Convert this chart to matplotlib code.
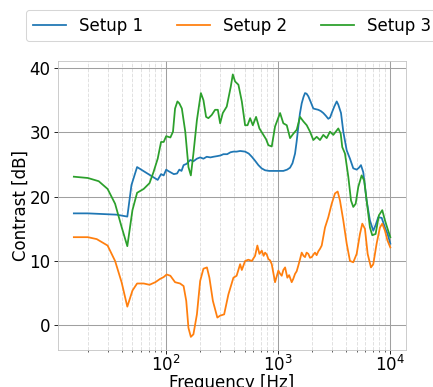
import matplotlib
matplotlib.use("Agg")
from matplotlib import pyplot as plt

plt.rcParams['font.size'] = 16

# Setup 1
freq_1 = [15, 20, 36, 45, 49, 55, 84, 90, 95, 100, 104, 109, 117, 125, 131, 137, 143,
          152, 164, 175, 188, 201, 215, 230, 248, 264, 285, 305, 324, 350, 375, 398,
          425, 457, 506, 545, 581, 620, 665, 710, 763, 830, 904, 1000, 1110, 1200,
          1274, 1340, 1412, 1460, 1511, 1560, 1619, 1680, 1733, 1790, 1855, 1950,
          2055, 2160, 2277, 2400, 2523, 2650, 2796, 2900, 3000, 3160, 3323, 3433,
          3630, 3805, 4080, 4364, 4670, 5008, 5250, 5470, 5734, 6145, 6577, 7043,
          7400, 7801, 8373, 8959, 9450, 10000]
contrast_1 = [17.4, 17.4, 17.2, 16.9, 21.8, 24.6, 22.6, 23.5, 23.3, 24.2, 24.0, 23.8,
              23.5, 23.6, 24.2, 24.0, 24.9, 25.1, 25.7, 25.5, 25.9, 26.1, 25.9, 26.2,
              26.1, 26.2, 26.3, 26.4, 26.6, 26.6, 26.9, 27.0, 27.0, 27.1, 27.0, 26.7,
              26.2, 25.6, 24.9, 24.4, 24.1, 24.0, 24.0, 24.0, 24.0, 24.2, 24.5, 25.2,
              26.7, 28.6, 30.9, 32.9, 34.5, 35.5, 36.1, 36.0, 35.6, 34.7, 33.7, 33.6,
              33.5, 33.3, 33.0, 32.6, 32.1, 32.3, 33.0, 34.0, 34.8, 34.3, 33.0, 30.1,
              27.2, 25.9, 24.4, 24.2, 24.5, 24.9, 23.8, 19.4, 16.3, 14.7, 15.6, 16.8,
              16.7, 15.2, 14.2, 12.7]

# Setup 2
freq_2 = [15, 20, 24, 30, 35, 40, 45, 50, 55, 63, 71, 80, 88, 95, 101, 109, 120, 133,
          143, 151, 158, 166, 175, 188, 201, 215, 231, 243, 261, 286, 303, 329, 359,
          398, 425, 457, 473, 506, 541, 581, 621, 651, 679, 713, 740, 763, 790, 816,
          845, 875, 936, 1002, 1040, 1074, 1110, 1151, 1205, 1250, 1318, 1360, 1412,
          1460, 1511, 1560, 1619, 1680, 1733, 1790, 1855, 1920, 1990, 2060, 2128,
          2200, 2277, 2360, 2442, 2613, 2796, 2999, 3208, 3390, 3554, 3805, 4080,
          4364, 4670, 5008, 5357, 5620, 5936, 6276, 6716, 7043, 7546, 8074, 8471,
          8959, 9420, 10000]
contrast_2 = [13.7, 13.7, 13.4, 12.4, 10.0, 6.7, 2.9, 5.4, 6.5, 6.5, 6.3, 6.7, 7.2,
              7.5, 7.9, 7.7, 6.7, 6.5, 6.1, 3.8, -0.4, -1.8, -1.4, 1.7, 6.9, 8.8, 9.0,
              7.4, 3.8, 1.2, 1.5, 1.7, 4.8, 7.4, 7.7, 9.5, 8.6, 10.0, 10.2, 10.0, 10.8,
              12.4, 11.1, 11.6, 10.8, 11.3, 11.0, 10.3, 10.1, 9.5, 6.7, 8.5, 8.0, 7.7,
              8.6, 9.0, 7.4, 7.8, 6.7, 7.2, 8.0, 8.4, 9.3, 10.2, 11.3, 10.8, 10.6,
              11.3, 11.1, 10.5, 10.6, 11.0, 11.3, 10.9, 11.5, 11.9, 12.4, 15.2, 16.8,
              18.9, 20.5, 20.8, 19.4, 16.3, 12.7, 10.0, 9.8, 11.1, 14.2, 15.8, 15.0,
              11.1, 9.0, 9.5, 12.7, 15.2, 15.8, 14.7, 13.2, 12.1]

# Setup 3
freq_3 = [15, 20, 25, 30, 35, 40, 45, 50, 55, 63, 71, 77, 84, 90, 95, 100, 109, 115,
          120, 126, 131, 138, 148, 158, 166, 175, 188, 204, 215, 227, 238, 255, 273,
          289, 303, 320, 347, 377, 393, 412, 441, 473, 506, 532, 561, 593, 634, 679,
          737, 780, 816, 875, 936, 1038, 1110, 1191, 1274, 1365, 1462, 1564, 1675,
          1795, 1920, 2055, 2203, 2358, 2523, 2704, 2895, 3098, 3433, 3606, 3725,
          3938, 4217, 4457, 4670, 4906, 5174, 5544, 5848, 6145, 6577, 6900, 7389,
          7909, 8471, 8959, 9450, 10000]
contrast_3 = [23.1, 22.9, 22.4, 21.2, 18.9, 15.3, 12.3, 17.9, 20.6, 21.2, 22.1, 23.8,
              25.9, 28.5, 28.5, 29.4, 29.2, 30.1, 33.7, 34.8, 34.5, 33.7, 30.1, 24.6,
              23.3, 26.7, 31.9, 36.1, 35.0, 32.4, 32.2, 32.7, 33.5, 33.5, 31.4, 33.0,
              34.0, 37.1, 39.0, 37.9, 37.4, 34.8, 31.1, 31.1, 32.2, 31.1, 32.4, 30.6,
              29.6, 28.9, 28.0, 27.8, 30.9, 33.0, 31.4, 31.1, 29.1, 29.8, 30.4, 32.4,
              31.7, 31.1, 30.1, 28.8, 29.3, 28.8, 29.6, 29.1, 30.1, 29.6, 30.6, 29.8,
              27.7, 26.7, 23.1, 19.4, 18.4, 18.9, 21.5, 23.3, 22.5, 19.4, 15.2, 14.0,
              14.2, 17.1, 17.9, 16.3, 15.0, 13.7]

fig = plt.figure(figsize=(433 / 75, 387 / 75), dpi=75)
ax = fig.add_axes([0.134, 0.0956, 0.804, 0.746])

ax.plot(freq_1, contrast_1, color='tab:blue', lw=1.7, label='Setup 1')
ax.plot(freq_2, contrast_2, color='tab:orange', lw=1.7, label='Setup 2')
ax.plot(freq_3, contrast_3, color='tab:green', lw=1.7, label='Setup 3')
ax.set_xscale('log')

ax.grid(which='major', color='#a0a0a0', lw=1.0)
ax.grid(which='minor', axis='x', color='#e0e0e0', lw=0.9, linestyle='--')
ax.set_axisbelow(True)
for s in ax.spines.values():
    s.set_color('#c4c4c4')

ax.set_yticks([0, 10, 20, 30, 40])
ax.tick_params(axis='x', pad=1)
ax.set_xlabel('Frequency [Hz]', labelpad=-1)
ax.set_ylabel('Contrast [dB]', labelpad=0)

ax.legend(loc='lower center', bbox_to_anchor=(0.5, 1.04), ncol=3)

fig.savefig('out.png', dpi=75)
